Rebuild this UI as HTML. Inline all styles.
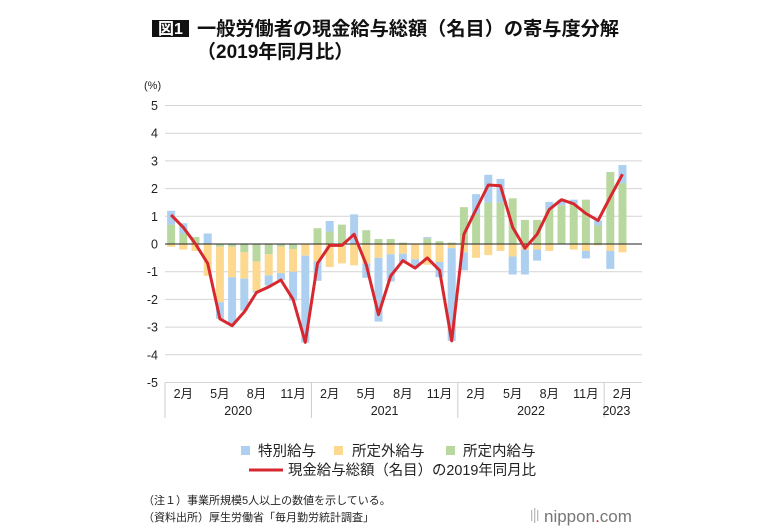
<!DOCTYPE html>
<html><head><meta charset="utf-8"><style>
body{margin:0;background:#fff;}
svg{display:block;font-family:"Liberation Sans","Noto Sans CJK JP",sans-serif;}
</style></head><body>
<svg id="s" width="781" height="530" viewBox="0 0 781 530" xmlns="http://www.w3.org/2000/svg">
<rect x="152" y="20" width="37" height="17" fill="#111"/>
<text x="170.5" y="34" font-size="16" font-weight="bold" fill="#fff" text-anchor="middle">図1</text>
<text x="197" y="35" font-size="19" font-weight="bold" fill="#111" textLength="422" lengthAdjust="spacingAndGlyphs">一般労働者の現金給与総額（名目）の寄与度分解</text>
<text x="197" y="58" font-size="19" font-weight="bold" fill="#111">（2019年同月比）</text>
<text x="144" y="89" font-size="11" fill="#222">(%)</text>
<g id="grid"></g>
<g id="bars"></g>
<g id="axis"></g>
<polyline id="line" fill="none" stroke="#d7282f" stroke-width="3" stroke-linejoin="round"/>
<rect x="241" y="446" width="9" height="9" fill="#aed0f0"/>
<text x="258" y="456" font-size="14.5" fill="#222">特別給与</text>
<rect x="334" y="446" width="9" height="9" fill="#fcd98f"/>
<text x="352" y="456" font-size="14.5" fill="#222">所定外給与</text>
<rect x="446" y="446" width="9" height="9" fill="#b9d8a0"/>
<text x="463" y="456" font-size="14.5" fill="#222">所定内給与</text>
<line x1="249" y1="470" x2="283" y2="470" stroke="#d7282f" stroke-width="3"/>
<text x="288" y="475" font-size="14.5" fill="#222" textLength="248" lengthAdjust="spacingAndGlyphs">現金給与総額（名目）の2019年同月比</text>
<text x="143" y="504" font-size="11" fill="#222">（注１）事業所規模5人以上の数値を示している。</text>
<text x="143" y="521" font-size="11" fill="#222">（資料出所）厚生労働省「毎月勤労統計調査」</text>
<g fill="#bbb"><rect x="531" y="510" width="1.3" height="11"/><rect x="534" y="508" width="1.3" height="15"/><rect x="537" y="510" width="1.3" height="11"/></g>
<text x="544" y="522" font-size="17" fill="#777">nippon<tspan fill="#d7282f">.</tspan>com</text>
</svg>
<script>
var NS="http://www.w3.org/2000/svg";
function el(p,t,a){var e=document.createElementNS(NS,t);for(var k in a)e.setAttribute(k,a[k]);document.getElementById(p).appendChild(e);return e;}
var y0=244,u=27.7,x0=165,mw=12.2;
function Y(v){return y0-v*u;}
for(var v=5;v>=-5;v--){
 if(v!=0) el("grid","line",{x1:165,x2:642,y1:Y(v),y2:Y(v),stroke:"#d4d4d4","stroke-width":1});
 var t=el("grid","text",{x:158,y:Y(v)+4.5,"font-size":12.5,fill:"#222","text-anchor":"end"});t.textContent=v;
}
var d=[[.7,-.1,.5],[.38,-.2,.37],[.25,-.25,0],[0,-1.15,.38],[-.1,-2.0,-.6],[-.1,-1.1,-1.7],[-.3,-.95,-1.15],[-.63,-1.07,-.05],[-.37,-.76,-.37],[-.1,-.95,-.25],[-.18,-.82,-1.05],[0,-.42,-3.14],
[.57,-.63,-.7],[.45,-.83,.38],[.7,-.7,0],[0,-.77,1.07],[.5,-.7,-.52],[.18,-.5,-2.3],[.18,-.37,-.98],[.05,-.35,-.3],[0,-.55,-.3],[.2,-.75,.05],[.1,-.65,-.55],[.05,-.15,-3.35],
[1.33,-.3,-.65],[1.1,-.5,.7],[1.5,-.4,1.0],[1.5,-.25,.85],[1.65,-.45,-.65],[.87,-.2,-.9],[.87,-.2,-.4],[1.25,-.25,.27],[1.4,0,.2],[1.45,-.2,.15],[1.6,-.25,-.27],[.67,-.05,.18],[2.6,-.25,-.65],[2.2,-.3,.65]];
var L=[1.05,.6,0,-.7,-2.7,-2.95,-2.45,-1.75,-1.55,-1.3,-2.0,-3.55,-.7,-.05,-.05,.35,-.75,-2.55,-1.15,-.6,-.87,-.5,-.95,-3.5,.35,1.25,2.13,2.1,.6,-.15,.35,1.25,1.6,1.45,1.1,.85,1.7,2.52];
var cols=["#b9d8a0","#fcd98f","#aed0f0"],pts=[];
d.forEach(function(r,i){
 var cx=x0+mw*(i+.5),pos=0,neg=0;
 r.forEach(function(v,j){
  if(v==0)return;var a,b;
  if(v>0){a=pos;pos+=v;b=pos;}else{a=neg;neg+=v;b=neg;}
  el("bars","rect",{x:cx-4,width:8,y:Y(Math.max(a,b)),height:Math.abs(v)*u,fill:cols[j]});
 });
 pts.push(cx.toFixed(1)+","+Y(L[i]).toFixed(1));
});
document.getElementById("line").setAttribute("points",pts.join(" "));
el("axis","line",{x1:165,x2:642,y1:y0,y2:y0,stroke:"#222","stroke-width":1});
[0,12,24,36].forEach(function(m){el("axis","line",{x1:x0+m*mw,x2:x0+m*mw,y1:Y(-5),y2:418,stroke:"#ccc","stroke-width":1});});
for(var i=0;i<38;i++){var mo=i%12+1;if(mo==2||mo==5||mo==8||mo==11){var t=el("axis","text",{x:x0+mw*(i+.5),y:398,"font-size":12.5,fill:"#222","text-anchor":"middle"});t.textContent=mo+"月";}}
[["2020",6],["2021",18],["2022",30],["2023",37]].forEach(function(a){var t=el("axis","text",{x:x0+mw*a[1],y:415,"font-size":12.5,fill:"#222","text-anchor":"middle"});t.textContent=a[0];});
</script>
</body></html>
